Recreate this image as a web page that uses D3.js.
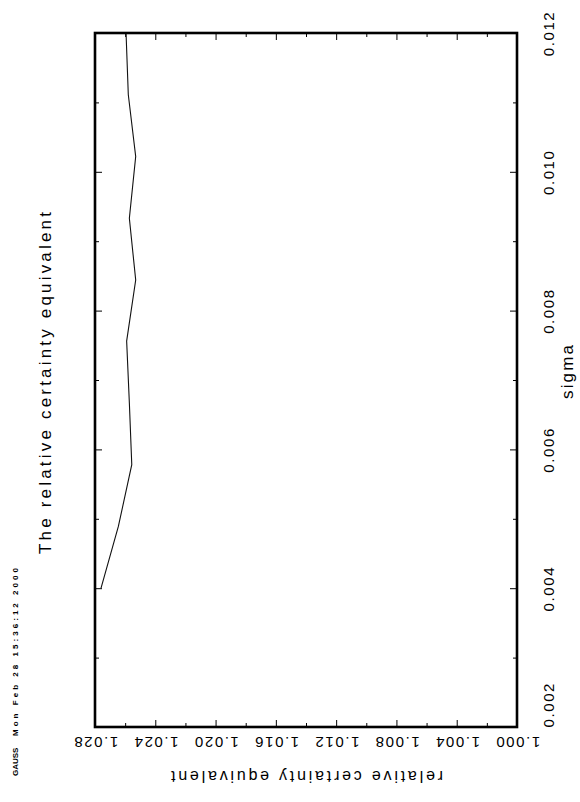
<!DOCTYPE html>
<html>
<head>
<meta charset="utf-8">
<script src="https://cdn.jsdelivr.net/npm/d3@7"></script>
<style>
  html, body { margin: 0; padding: 0; background: #fff; }
  svg { display: block; }
  text { font-family: "Liberation Sans", Arial, sans-serif; fill: #000; }
</style>
</head>
<body>
<svg id="chart" width="580" height="802"></svg>
<script>
// Relative certainty equivalent as a function of sigma
const sigma = [0.00400, 0.00489, 0.00578, 0.00667, 0.00756, 0.00844, 0.00933, 0.01022, 0.01111, 0.01200];
const rce   = [1.02760, 1.02645, 1.02556, 1.02572, 1.02590, 1.02530, 1.02572, 1.02530, 1.02579, 1.02594];

const sigmaLabels = [0.002, 0.004, 0.006, 0.008, 0.010, 0.012];
const sigmaMinor  = [0.003, 0.005, 0.007, 0.009, 0.011];
const rceLabels   = [1.000, 1.004, 1.008, 1.012, 1.016, 1.020, 1.024, 1.028];
const rceMinor    = [1.002, 1.006, 1.010, 1.014, 1.018, 1.022, 1.026];

const titleText  = "The relative certainty equivalent";
const sigmaTitle = "sigma";
const rceTitle   = "relative certainty equivalent";
const stampName  = "GAUSS";
const stampDate  = "Mon Feb 28 15:36:12 2000";

const svg = d3.select("#chart");

// The plot is laid out sideways: sigma runs bottom-to-top, rce right-to-left
const box = { left: 95, right: 517, top: 33, bottom: 727 };
const sy = d3.scaleLinear().domain([0.002, 0.012]).range([box.bottom, box.top]);
const sx = d3.scaleLinear().domain([1.000, 1.028]).range([box.right, box.left]);

const fmt = d3.format(".3f");
const MAJ = 7, MIN = 4;

function styleAxis(g) {
  g.select(".domain").remove();
  g.selectAll(".tick line").attr("stroke", "#000").attr("stroke-width", 1);
}

// sigma axis, right side with labels
const right = svg.append("g").attr("transform", `translate(${box.right},0)`)
  .call(d3.axisRight(sy).tickValues(sigmaLabels).tickSize(-MAJ).tickFormat(fmt))
  .call(styleAxis);
right.selectAll(".tick text")
  .attr("x", null).attr("dy", null)
  .attr("font-size", 15)
  .attr("letter-spacing", 1.6)
  .attr("dominant-baseline", "central")
  .attr("text-anchor", d => d === 0.002 ? "start" : "middle")
  .attr("transform", "translate(31,0) rotate(-90)");
svg.append("g").attr("transform", `translate(${box.right},0)`)
  .call(d3.axisRight(sy).tickValues(sigmaMinor).tickSize(-MIN).tickFormat(""))
  .call(styleAxis);

// sigma axis, left side ticks only
svg.append("g").attr("transform", `translate(${box.left},0)`)
  .call(d3.axisLeft(sy).tickValues(sigmaLabels).tickSize(-MAJ).tickFormat(""))
  .call(styleAxis);
svg.append("g").attr("transform", `translate(${box.left},0)`)
  .call(d3.axisLeft(sy).tickValues(sigmaMinor).tickSize(-MIN).tickFormat(""))
  .call(styleAxis);

// rce axis, bottom with labels (upside down)
const bottom = svg.append("g").attr("transform", `translate(0,${box.bottom})`)
  .call(d3.axisBottom(sx).tickValues(rceLabels).tickSize(-MAJ).tickFormat(fmt))
  .call(styleAxis);
bottom.selectAll(".tick text")
  .attr("y", null).attr("dy", null)
  .attr("font-size", 15)
  .attr("letter-spacing", 1.6)
  .attr("dominant-baseline", "central")
  .attr("text-anchor", "middle")
  .attr("transform", "translate(0,15) rotate(180)");
svg.append("g").attr("transform", `translate(0,${box.bottom})`)
  .call(d3.axisBottom(sx).tickValues(rceMinor).tickSize(-MIN).tickFormat(""))
  .call(styleAxis);

// rce axis, top ticks only
svg.append("g").attr("transform", `translate(0,${box.top})`)
  .call(d3.axisTop(sx).tickValues(rceLabels).tickSize(-MAJ).tickFormat(""))
  .call(styleAxis);
svg.append("g").attr("transform", `translate(0,${box.top})`)
  .call(d3.axisTop(sx).tickValues(rceMinor).tickSize(-MIN).tickFormat(""))
  .call(styleAxis);

// data line
const line = d3.line().x(d => sx(d[1])).y(d => sy(d[0]));
svg.append("path")
  .datum(sigma.map((s, i) => [s, rce[i]]))
  .attr("d", line)
  .attr("fill", "none")
  .attr("stroke", "#111")
  .attr("stroke-width", 1.1);

// frame
svg.append("rect")
  .attr("x", box.left).attr("y", box.top)
  .attr("width", box.right - box.left).attr("height", box.bottom - box.top)
  .attr("fill", "none").attr("stroke", "#000").attr("stroke-width", 2.6);

// titles
svg.append("text")
  .attr("transform", "translate(45,383) rotate(-90)")
  .attr("text-anchor", "middle").attr("dominant-baseline", "central")
  .attr("font-size", 17).attr("textLength", 342).attr("lengthAdjust", "spacing")
  .text(titleText);

svg.append("text")
  .attr("transform", "translate(567,372) rotate(-90)")
  .attr("text-anchor", "middle").attr("dominant-baseline", "central")
  .attr("font-size", 17).attr("textLength", 54).attr("lengthAdjust", "spacing")
  .text(sigmaTitle);

svg.append("text")
  .attr("transform", "translate(307,776) rotate(180)")
  .attr("text-anchor", "middle").attr("dominant-baseline", "central")
  .attr("font-size", 16).attr("textLength", 272).attr("lengthAdjust", "spacing")
  .text(rceTitle);

// program stamp
svg.append("text")
  .attr("transform", "translate(15,776) rotate(-90)")
  .attr("text-anchor", "start").attr("dominant-baseline", "central")
  .attr("font-size", 8).attr("font-weight", "bold")
  .text(stampName);
svg.append("text")
  .attr("transform", "translate(15,736) rotate(-90)")
  .attr("text-anchor", "start").attr("dominant-baseline", "central")
  .attr("font-size", 8).attr("font-weight", "bold")
  .attr("textLength", 168).attr("lengthAdjust", "spacing")
  .text(stampDate);
</script>
</body>
</html>
